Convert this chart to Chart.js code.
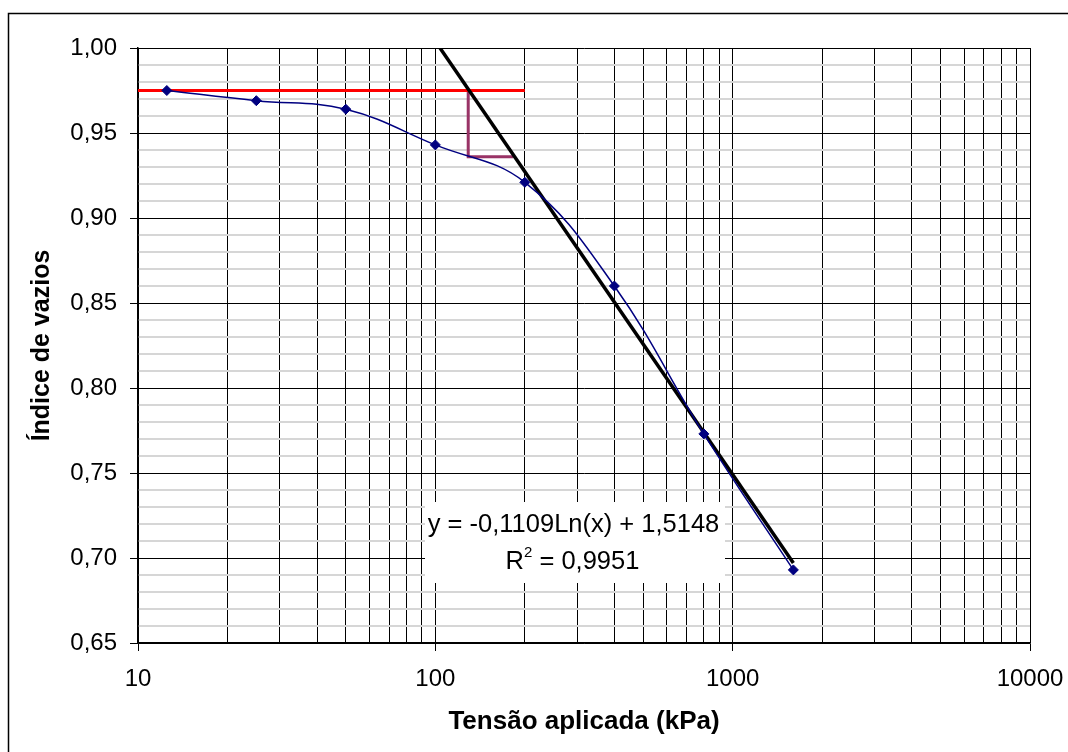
<!DOCTYPE html>
<html>
<head>
<meta charset="utf-8">
<script src="https://cdn.jsdelivr.net/npm/chart.js@4/dist/chart.umd.min.js"></script>
<style>
html,body{margin:0;padding:0;background:#fff;}
#wrap{width:1068px;height:752px;}
</style>
</head>
<body>
<div id="wrap"><canvas id="c" width="1068" height="752"></canvas></div>
<script>
// ---- data ----
const pressures  = [12.5, 25, 50, 100, 200, 400, 800, 1600];
const voidRatios = [0.975, 0.969, 0.964, 0.943, 0.921, 0.860, 0.773, 0.693];

const refLineX = [10, 200];
const refLineY = [0.975, 0.975];

const slopeX = [129, 129, 183];
const slopeY = [0.975, 0.936, 0.936];

const trendX = [103.7, 1600];
const trendY = [1.000, 0.697];

const xTickValues = [10,20,30,40,50,60,70,80,90,
                     100,200,300,400,500,600,700,800,900,
                     1000,2000,3000,4000,5000,6000,7000,8000,9000,10000];
const xLabelValues = [10, 100, 1000, 10000];

const yMin = 0.65, yMax = 1.00, yStep = 0.01;
const yLabelValues = [0.65, 0.70, 0.75, 0.80, 0.85, 0.90, 0.95, 1.00];

const eqLine1 = 'y = -0,1109Ln(x) + 1,5148';
const eqLine2a = 'R';
const eqLine2sup = '2';
const eqLine2b = ' = 0,9951';

const xTitle = 'Tensão aplicada (kPa)';
const yTitle = 'Índice de vazios';

// ---- helpers ----
const zip = (xs, ys) => xs.map((x, i) => ({x: x, y: ys[i]}));
const isYLabel = v => yLabelValues.some(l => Math.abs(l - v) < 1e-6);
const isXLabel = v => xLabelValues.some(l => Math.abs(l - v) < 1e-6);
const FONT = '"Liberation Sans", Arial, sans-serif';

const framePlugin = {
  id: 'frame',
  beforeDraw(chart) {
    const ctx = chart.ctx;
    ctx.save();
    ctx.fillStyle = '#fff';
    ctx.fillRect(0, 0, chart.width, chart.height);
    ctx.strokeStyle = '#000';
    ctx.lineWidth = 1.5;
    ctx.beginPath();
    ctx.moveTo(8.5, chart.height);
    ctx.lineTo(8.5, 13.5);
    ctx.lineTo(chart.width, 13.5);
    ctx.stroke();
    ctx.restore();
  }
};

const eqPlugin = {
  id: 'eqbox',
  beforeDatasetsDraw(chart) {
    const ctx = chart.ctx;
    const box = {left: 425, top: 502, width: 300, height: 81};
    ctx.save();
    ctx.fillStyle = '#fff';
    ctx.fillRect(box.left, box.top, box.width, box.height);
    ctx.fillStyle = '#000';
    ctx.textBaseline = 'middle';
    ctx.textAlign = 'center';
    ctx.font = '25.5px ' + FONT;
    ctx.fillText(eqLine1, 573.5, 525);
    // second line with superscript
    ctx.textAlign = 'left';
    const wR = ctx.measureText(eqLine2a).width;
    const wB = ctx.measureText(eqLine2b).width;
    ctx.font = '15px ' + FONT;
    const wS = ctx.measureText(eqLine2sup).width;
    const total = wR + wS + wB;
    let x = 572.5 - total / 2;
    ctx.font = '25.5px ' + FONT;
    ctx.fillText(eqLine2a, x, 562);
    x += wR;
    ctx.font = '15px ' + FONT;
    ctx.fillText(eqLine2sup, x, 553);
    x += wS;
    ctx.font = '25.5px ' + FONT;
    ctx.fillText(eqLine2b, x, 562);
    ctx.restore();
  }
};

new Chart(document.getElementById('c'), {
  type: 'scatter',
  data: {
    datasets: [
      {
        label: 'Índice de vazios',
        data: zip(pressures, voidRatios),
        showLine: true,
        borderColor: '#000080',
        borderWidth: 1.5,
        backgroundColor: '#000080',
        pointStyle: 'rectRot',
        pointRadius: 5,
        pointBorderWidth: 1,
        pointBorderColor: '#000080',
        pointBackgroundColor: '#000080',
        tension: 0.4,
        cubicInterpolationMode: 'default'
      },
      {
        label: 'Tendência',
        data: zip(trendX, trendY),
        showLine: true,
        borderColor: '#000',
        borderWidth: 3.5,
        pointRadius: 0,
        tension: 0
      },
      {
        label: 'Referência',
        data: zip(refLineX, refLineY),
        showLine: true,
        borderColor: '#ff0000',
        borderWidth: 3,
        pointRadius: 0,
        tension: 0
      },
      {
        label: 'Construção',
        data: zip(slopeX, slopeY),
        showLine: true,
        borderColor: '#993366',
        borderWidth: 3,
        pointRadius: 0,
        tension: 0
      }
    ]
  },
  options: {
    responsive: false,
    animation: false,
    devicePixelRatio: 1,
    layout: { padding: { left: 0, top: 48, right: 38, bottom: 0 } },
    plugins: {
      legend: { display: false },
      tooltip: { enabled: false }
    },
    scales: {
      x: {
        type: 'logarithmic',
        position: 'bottom',
        min: 10,
        max: 10000,
        afterBuildTicks: s => { s.ticks = xTickValues.map(v => ({value: v})); },
        afterFit: s => { s.height = 109; s.paddingLeft = 0; s.paddingRight = 0; },
        border: { color: '#000', width: 1.5 },
        grid: {
          color: '#000',
          lineWidth: 1,
          drawTicks: true,
          tickLength: 8,
          tickColor: ctx => (ctx.tick && isXLabel(ctx.tick.value)) ? '#000' : 'rgba(0,0,0,0)'
        },
        ticks: {
          autoSkip: false,
          maxRotation: 0,
          padding: 14,
          color: '#000',
          font: { family: FONT, size: 24 },
          callback: v => isXLabel(v) ? String(v) : ''
        },
        title: {
          display: true,
          text: xTitle,
          color: '#000',
          font: { family: FONT, size: 26, weight: 'bold' },
          padding: { top: 0, bottom: 15 }
        }
      },
      y: {
        type: 'linear',
        min: yMin,
        max: yMax,
        afterFit: s => { s.width = 138; },
        border: { color: '#000', width: 1.5 },
        grid: {
          color: ctx => (ctx.tick && isYLabel(ctx.tick.value)) ? '#000' : '#d6d6d6',
          lineWidth: ctx => (ctx.tick && isYLabel(ctx.tick.value)) ? 1 : 2,
          drawTicks: true,
          tickLength: 8,
          tickColor: ctx => (ctx.tick && isYLabel(ctx.tick.value)) ? '#000' : 'rgba(0,0,0,0)'
        },
        ticks: {
          stepSize: yStep,
          autoSkip: false,
          padding: 13,
          color: '#000',
          font: { family: FONT, size: 24 },
          callback: v => isYLabel(v) ? v.toFixed(2).replace('.', ',') : ''
        },
        title: {
          display: true,
          text: yTitle,
          color: '#000',
          font: { family: FONT, size: 25, weight: 'bold' },
          padding: { top: 27, bottom: 0 }
        }
      }
    }
  },
  plugins: [framePlugin, eqPlugin]
});
</script>
</body>
</html>
